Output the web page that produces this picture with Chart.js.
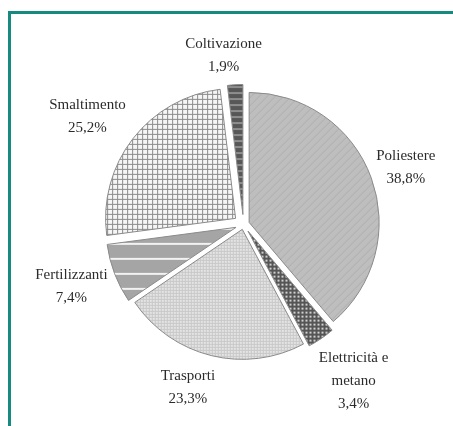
<!DOCTYPE html>
<html>
<head>
<meta charset="utf-8">
<script src="https://cdn.jsdelivr.net/npm/chart.js@4.4.0/dist/chart.umd.min.js"></script>
<style>
  html, body { margin: 0; padding: 0; background: #fff; }
  #wrap { position: relative; width: 453px; height: 426px; overflow: hidden; }
  #frame {
    position: absolute; left: 8px; top: 11px; right: -10px; bottom: -10px;
    border-top: 3px solid #168a7e; border-left: 3px solid #168a7e;
  }
  canvas { position: absolute; left: 0; top: 0; }
</style>
</head>
<body>
<div id="wrap">
  <div id="frame"></div>
  <canvas id="torta" width="453" height="426"></canvas>
</div>
<script>
// categorie e valori (%)
const categories = [
  ['Poliestere'],
  ['Elettricità e', 'metano'],
  ['Trasporti'],
  ['Fertilizzanti'],
  ['Smaltimento'],
  ['Coltivazione']
];
const values = [38.8, 3.4, 23.3, 7.4, 25.2, 1.9];

// spostamento delle fette (px) e posizione etichette [distanza, correzione angolo in gradi]
const explode = [6, 8, 5, 8, 10, 10];
const labelPos = [[172, 0.8], [191, -1], [172, 5], [183, 1], [190, -3], [170, -3.3]];

const canvas = document.getElementById('torta');
const ctx = canvas.getContext('2d');

function tile(w, h, bg, draw) {
  const c = document.createElement('canvas');
  c.width = w; c.height = h;
  const x = c.getContext('2d');
  x.fillStyle = bg;
  x.fillRect(0, 0, w, h);
  draw(x);
  return ctx.createPattern(c, 'repeat');
}

const patterns = [
  // Poliestere: grigio con righe diagonali leggere
  tile(8, 8, '#bebebe', x => {
    x.strokeStyle = '#adadad'; x.lineWidth = 1;
    x.beginPath(); x.moveTo(0, 8); x.lineTo(8, 0); x.moveTo(-1, 1); x.lineTo(1, -1); x.moveTo(7, 9); x.lineTo(9, 7); x.stroke();
  }),
  // Elettricità: scuro a puntini
  tile(4, 4, '#555', x => { x.fillStyle = '#cfcfcf'; x.fillRect(1, 1, 2, 2); }),
  // Trasporti: griglia fine chiara
  tile(3, 3, '#e4e4e4', x => { x.fillStyle = '#c9c9c9'; x.fillRect(0, 0, 3, 1); x.fillRect(0, 0, 1, 3); }),
  // Fertilizzanti: righe orizzontali bianche
  tile(16, 15, '#a5a5a5', x => { x.fillStyle = '#f2f2f2'; x.fillRect(0, 0, 16, 2); }),
  // Smaltimento: quadrettato
  tile(5, 5, '#f6f6f6', x => { x.fillStyle = '#8c8c8c'; x.fillRect(0, 0, 5, 1); x.fillRect(0, 0, 1, 5); }),
  // Coltivazione: scuro a bande
  tile(6, 6, '#575757', x => { x.fillStyle = '#8e8e8e'; x.fillRect(0, 0, 6, 2); })
];

const explodePlugin = {
  id: 'explode',
  beforeDatasetDraw(chart) {
    const c = chart.ctx;
    chart.getDatasetMeta(0).data.forEach((arc, i) => {
      const mid = (arc.startAngle + arc.endAngle) / 2;
      c.save();
      c.translate(Math.cos(mid) * explode[i], Math.sin(mid) * explode[i]);
      arc.draw(c);
      c.restore();
    });
    return false;
  }
};

const labelPlugin = {
  id: 'etichette',
  afterDraw(chart) {
    const c = chart.ctx;
    c.save();
    c.font = '15px "Liberation Serif", "DejaVu Serif", serif';
    c.fillStyle = '#2b2b2b';
    c.textAlign = 'center';
    c.textBaseline = 'middle';
    chart.getDatasetMeta(0).data.forEach((arc, i) => {
      const ang = (arc.startAngle + arc.endAngle) / 2 + labelPos[i][1] * Math.PI / 180;
      const cx = arc.x + Math.cos(ang) * labelPos[i][0];
      const cy = arc.y + Math.sin(ang) * labelPos[i][0];
      const lines = categories[i].concat([values[i].toFixed(1).replace('.', ',') + '%']);
      const lh = 23;
      lines.forEach((t, k) => {
        c.fillText(t, cx, cy + (k - (lines.length - 1) / 2) * lh);
      });
    });
    c.restore();
  }
};

new Chart(canvas, {
  type: 'pie',
  data: {
    labels: categories,
    datasets: [{
      data: values,
      backgroundColor: patterns,
      borderColor: '#8a8a8a',
      borderWidth: 1
    }]
  },
  options: {
    responsive: false,
    devicePixelRatio: 1,
    animation: false,
    layout: { padding: { left: 113, right: 79, top: 94, bottom: 71 } },
    plugins: {
      legend: { display: false },
      tooltip: { enabled: false }
    }
  },
  plugins: [explodePlugin, labelPlugin]
});
</script>
</body>
</html>
